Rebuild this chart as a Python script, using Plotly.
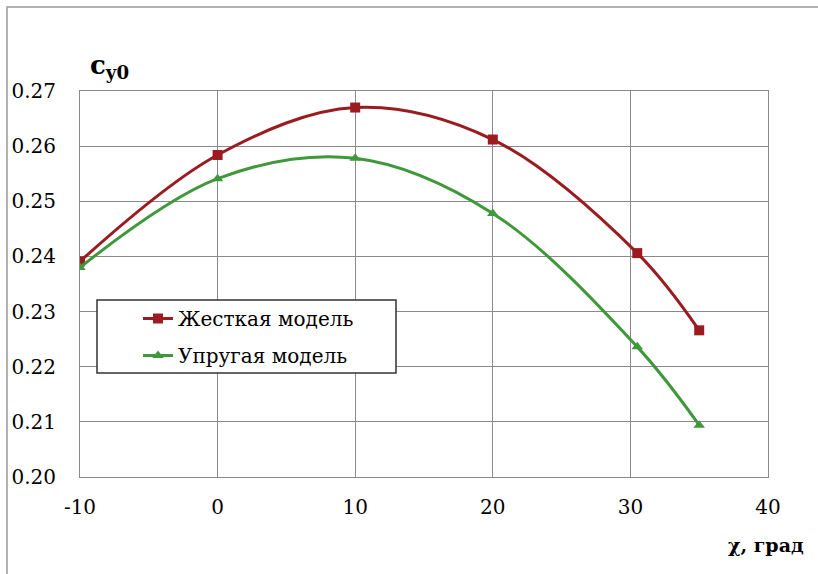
import plotly.graph_objects as go

# Sweep angle, degrees
chi_rigid = [-10, 0, 10, 20, 30.5, 35]
chi_elastic = [-10, 0, 10, 20, 30.5, 35]

# Lift coefficient c_y0
cy_rigid = [0.2391, 0.2584, 0.2670, 0.2612, 0.2406, 0.2266]
cy_elastic = [0.2380, 0.2541, 0.2578, 0.2478, 0.2236, 0.2094]

series_names = ["Жесткая модель", "Упругая модель"]
x_ticks = [-10, 0, 10, 20, 30, 40]
y_ticks = [0.20, 0.21, 0.22, 0.23, 0.24, 0.25, 0.26, 0.27]

RED = "#9a1c20"
GREEN = "#3f983a"
GRID = "#8a8a8a"
SERIF = "DejaVu Serif"

# plot area in pixels: x 80..768, y 91..477
PW, PH = 688, 386


def px_x(p):
    return (p - 80) / PW


def px_y(p):
    return (477 - p) / PH


fig = go.Figure()
fig.add_trace(go.Scatter(
    x=chi_rigid, y=cy_rigid, name=series_names[0], legendgroup="a",
    mode="lines+markers", line=dict(color=RED, width=3, shape="spline", smoothing=1),
    marker=dict(symbol="square", size=10, color=RED),
))
fig.add_trace(go.Scatter(
    x=chi_elastic, y=cy_elastic, name=series_names[1], legendgroup="b",
    mode="lines+markers", line=dict(color=GREEN, width=3, shape="spline", smoothing=1),
    marker=dict(symbol="triangle-up", size=10, color=GREEN),
))

fig.update_layout(
    width=818, height=574,
    margin=dict(l=80, r=50, t=91, b=97),
    paper_bgcolor="white", plot_bgcolor="white",
    font=dict(family=SERIF, size=20, color="black"),
    showlegend=True,
    legend=dict(
        x=px_x(138), y=px_y(299), xanchor="left", yanchor="top",
        bgcolor="rgba(0,0,0,0)", borderwidth=0,
        font=dict(family=SERIF, size=20, color="black"),
        tracegroupgap=8, itemwidth=30,
    ),
    xaxis=dict(
        range=[-10, 40], tickvals=x_ticks, ticktext=[str(v) for v in x_ticks],
        showgrid=True, gridcolor=GRID, gridwidth=1,
        showline=True, linecolor=GRID, linewidth=1, mirror=True,
        zeroline=False, ticks="outside", ticklen=12, tickcolor="rgba(0,0,0,0)",
        tickfont=dict(family=SERIF, size=20),
    ),
    yaxis=dict(
        range=[0.20, 0.27], tickvals=y_ticks, ticktext=[f"{v:.2f}" for v in y_ticks],
        showgrid=True, gridcolor=GRID, gridwidth=1,
        showline=True, linecolor=GRID, linewidth=1, mirror=True,
        zeroline=False, ticks="outside", ticklen=19, tickcolor="rgba(0,0,0,0)",
        tickfont=dict(family=SERIF, size=20),
    ),
    annotations=[
        dict(text="<b>c<sub>y0</sub></b>", xref="paper", yref="paper",
             x=px_x(88), y=1.0, xanchor="left", yanchor="bottom", yshift=6,
             showarrow=False, font=dict(family=SERIF, size=26, color="black")),
        dict(text="<b>χ, град</b>", xref="paper", yref="paper",
             x=px_x(806), y=0, xanchor="right", yanchor="top", yshift=-55,
             showarrow=False, font=dict(family=SERIF, size=19, color="black")),
    ],
    shapes=[
        # outer frame
        dict(type="rect", xref="paper", yref="paper",
             x0=px_x(7), x1=px_x(830), y0=px_y(585), y1=px_y(7),
             line=dict(color="#999999", width=1.5), layer="below"),
        # legend box
        dict(type="rect", xref="paper", yref="paper",
             x0=px_x(97), x1=px_x(396), y0=px_y(373), y1=px_y(300),
             line=dict(color="#333333", width=1.5), fillcolor="white", layer="above"),
    ],
)

fig.write_html("out.html")
